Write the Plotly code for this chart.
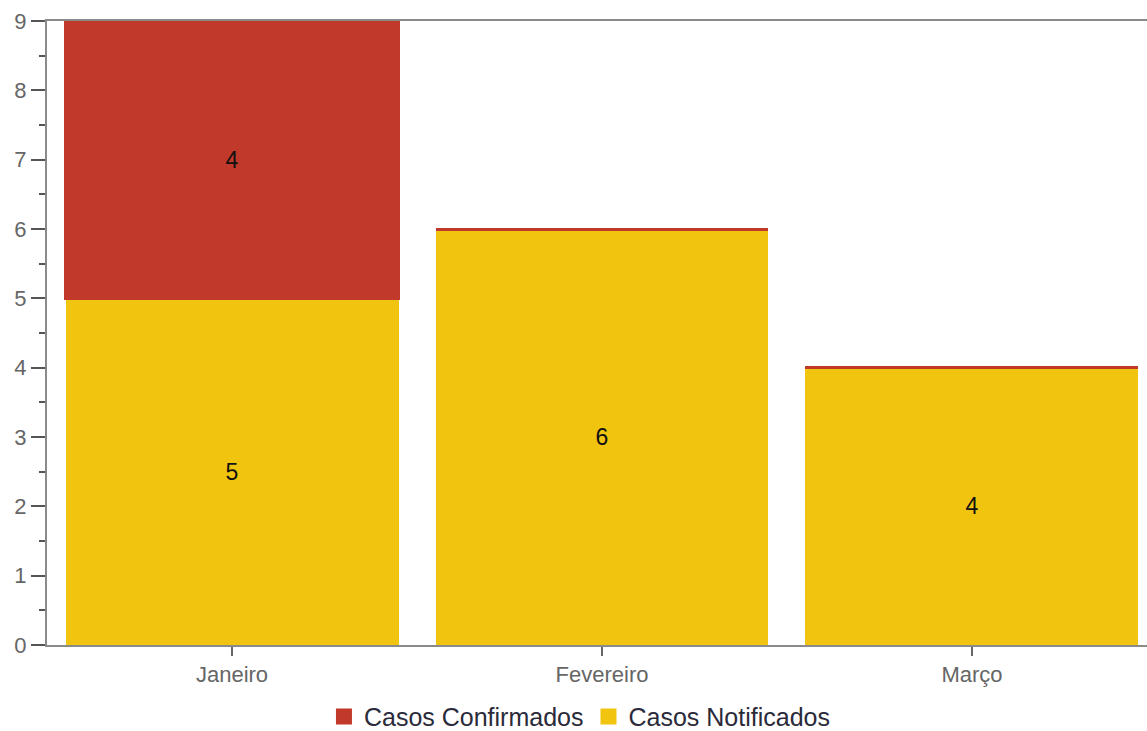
import plotly.graph_objects as go

months = ["Janeiro", "Fevereiro", "Março"]
notificados = [5, 6, 4]
confirmados = [4, 0, 0]

RED = "#C0392B"
YELLOW = "#F1C40F"
FONT = "Liberation Sans, Arial, sans-serif"

fig = go.Figure()

fig.add_trace(go.Bar(
    x=months, y=notificados, name="Casos Notificados",
    marker=dict(color=YELLOW, line=dict(width=0)),
    text=[str(v) for v in notificados], textposition="inside",
    insidetextanchor="middle",
    textfont=dict(color="#111111", size=23, family=FONT),
    showlegend=False,
))
fig.add_trace(go.Bar(
    x=months, y=confirmados, name="Casos Confirmados",
    marker=dict(color=RED, line=dict(color=RED, width=3)),
    text=[str(v) if v else "" for v in confirmados], textposition="inside",
    insidetextanchor="middle",
    textfont=dict(color="#111111", size=23, family=FONT),
    showlegend=False,
))

# legend entries with larger square swatches
for name, col in [("Casos Confirmados", RED), ("Casos Notificados", YELLOW)]:
    fig.add_trace(go.Scatter(
        x=[None], y=[None], mode="markers", name=name,
        marker=dict(symbol="square", size=20, color=col),
        showlegend=True,
    ))

fig.update_layout(
    width=1147, height=731,
    margin=dict(l=47, r=0, t=21, b=86, autoexpand=False),
    barmode="stack", bargap=0.1,
    plot_bgcolor="white", paper_bgcolor="white",
    font=dict(family=FONT, color="#666666"),
    uniformtext=dict(minsize=10, mode="show"),
    legend=dict(
        orientation="h", x=0.4845, xanchor="center", y=-0.115, yanchor="middle",
        font=dict(size=25, color="#2a2a3a", family=FONT),
        itemsizing="trace", traceorder="normal",
    ),
    xaxis=dict(
        range=[-0.5, 2.473], showgrid=False,
        showline=True, linecolor="#8a8a8a", linewidth=2, mirror=True,
        ticks="outside", ticklen=9, tickwidth=2, tickcolor="#666666",
        tickfont=dict(size=22, color="#666666"),
    ),
    yaxis=dict(
        range=[0, 9], dtick=1, showgrid=False, zeroline=False,
        showline=True, linecolor="#8a8a8a", linewidth=2,
        ticks="outside", ticklen=14, tickwidth=2, tickcolor="#555555",
        tickfont=dict(size=22, color="#666666"),
        minor=dict(dtick=0.5, ticks="outside", ticklen=6, tickwidth=2, tickcolor="#555555"),
    ),
)

fig.write_html("out.html")
